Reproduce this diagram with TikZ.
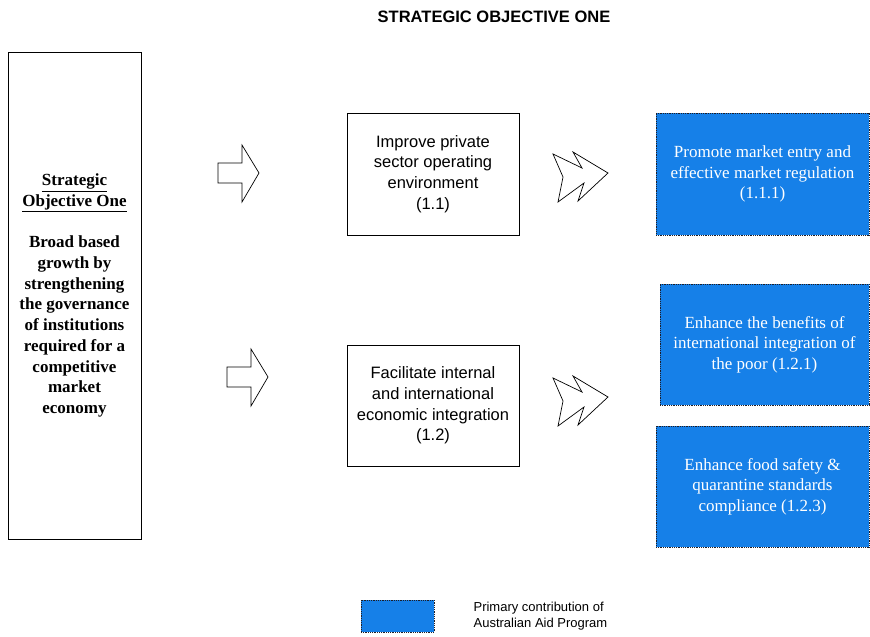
\documentclass[tikz,border=0pt]{standalone}
\usepackage{fontspec}
\setmainfont{Liberation Serif}
\setsansfont{Liberation Sans}
\usetikzlibrary{positioning}
\definecolor{aidblue}{RGB}{22,128,232}
\definecolor{edgegrey}{RGB}{30,30,40}
\tikzset{
  base/.style={align=center, inner sep=2pt, text=black},
  heading/.style={base, font={\sffamily\bfseries\fontsize{16.5}{20}\selectfont}},
  outbox/.style={base, rectangle, draw=black, fill=white, line width=0.8pt, font={\sffamily\fontsize{16.5}{20.7}\selectfont}},
  objbox/.style={outbox, font={\bfseries\fontsize{17}{20.7}\selectfont}},
  aidbox/.style={base, rectangle, draw=edgegrey, densely dotted, fill=aidblue, line width=0.8pt, text=white, font={\fontsize{17}{20.5}\selectfont}},
  keytext/.style={base, align=left, font={\sffamily\fontsize{13}{16}\selectfont}},
  blockarr/.style={draw=black, fill=white, line width=0.7pt, line join=miter},
}
\begin{document}
\begin{tikzpicture}[x=1pt,y=-1pt]
  \useasboundingbox (0,0) rectangle (870,637);
  % heading
  \node[heading] (ttl) at (494,17) {STRATEGIC OBJECTIVE ONE};
  % strategic objective
  \node[objbox,minimum width=133pt,minimum height=487pt] (obj) at (74.5,295.5)
    {\underline{Strategic}\\\underline{Objective One}\\[20.7pt]Broad based\\growth by\\strengthening\\the governance\\of institutions\\required for a\\competitive\\market\\economy};
  % outcomes
  \node[outbox,minimum width=172pt,minimum height=122pt] (o11) at (433,174) {Improve private\\sector operating\\environment\\(1.1)};
  \node[outbox,minimum width=172pt,minimum height=121pt] (o12) at (433,405.5) {Facilitate internal\\and international\\economic integration\\(1.2)};
  % outputs
  \node[aidbox,minimum width=213pt,minimum height=122pt] (p111) at (762.5,174) {Promote market entry and\\effective market regulation\\(1.1.1)};
  \node[aidbox,minimum width=209pt,minimum height=121pt] (p121) at (764.5,344.5) {Enhance the benefits of\\international integration of\\the poor (1.2.1)};
  \node[aidbox,minimum width=213pt,minimum height=121pt] (p123) at (762.5,486.5) {Enhance food safety \&\\quarantine standards\\compliance (1.2.3)};
  % block arrows
  \coordinate (a1) at (218,173);
  \coordinate (a2) at (227,377);
  \foreach \p in {a1,a2}{
    \draw[blockarr,shift={(\p)}] (0,-10) -- (24,-10) -- (24,-28) -- (41,0) -- (24,29) -- (24,10) -- (0,10) -- cycle;
  }
  \coordinate (c1) at (608,173);
  \coordinate (c2) at (608,397);
  \foreach \p in {c1,c2}{
    \draw[blockarr,shift={(\p)}] (-55,-19) -- (-26,-5) -- (-35,-21) -- (0,0) -- (-30,28) -- (-24,10) -- (-50,29) -- (-45,4) -- cycle;
  }
  % key
  \node[aidbox,minimum width=73pt,minimum height=32pt] (key) at (397.5,616) {};
  \node[keytext,right=37pt of key] (keylbl) {Primary contribution of\\Australian Aid Program};
\end{tikzpicture}
\end{document}
